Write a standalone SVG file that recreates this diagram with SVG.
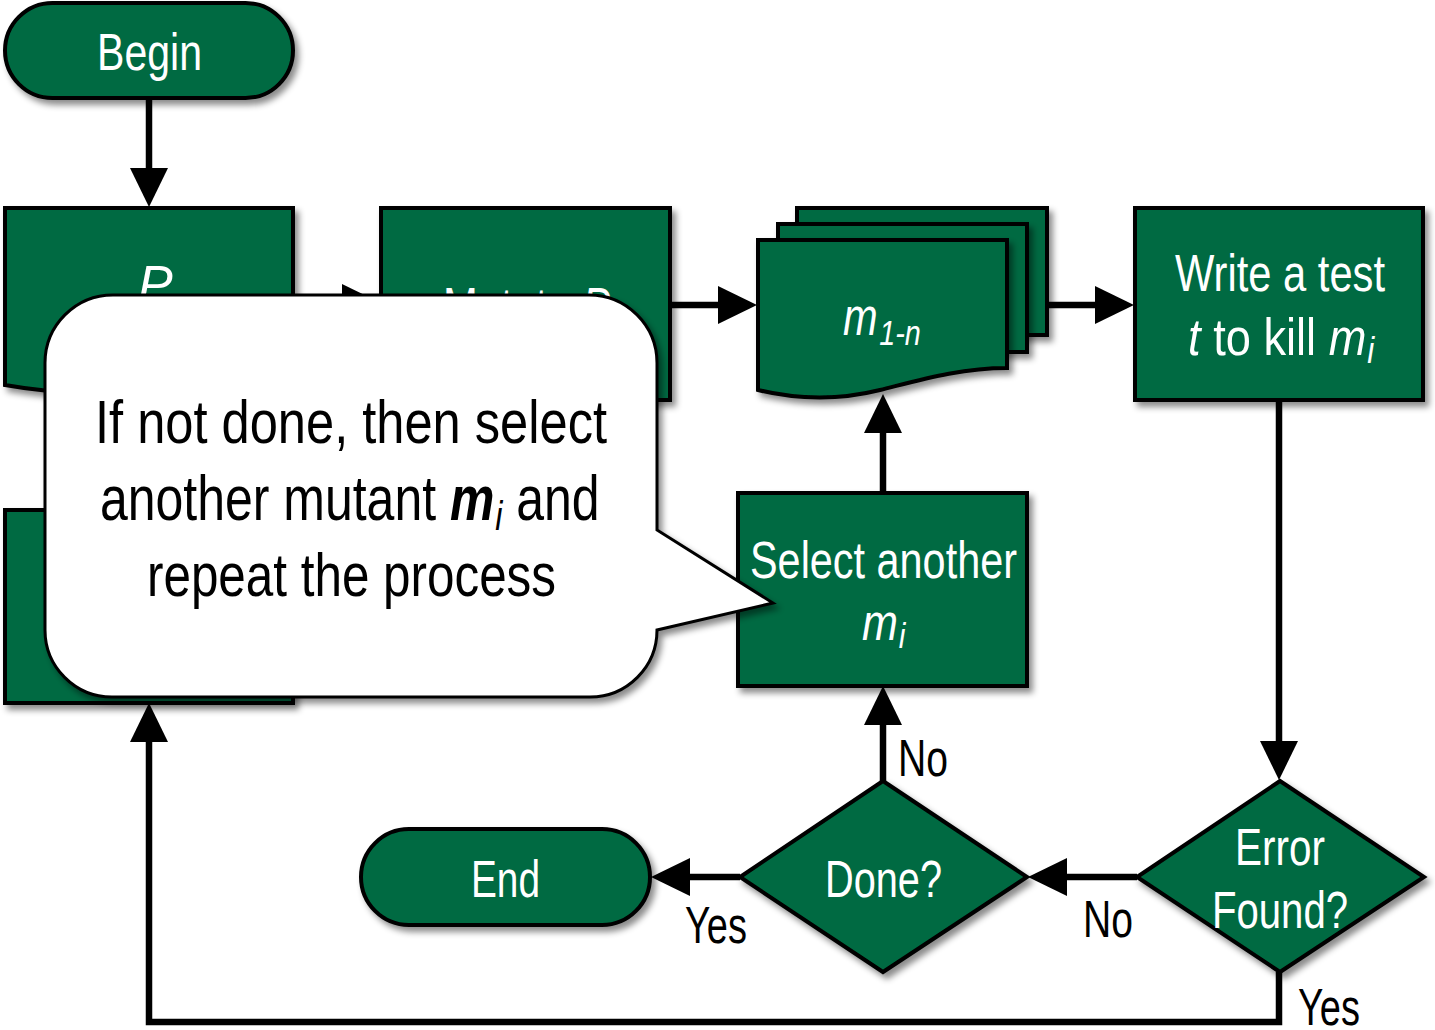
<svg xmlns="http://www.w3.org/2000/svg" width="1435" height="1030" viewBox="0 0 1435 1030">
<defs>
<filter id="sh" x="-10%" y="-10%" width="130%" height="130%">
<feDropShadow dx="4" dy="5" stdDeviation="3" flood-color="#000" flood-opacity="0.45"/>
</filter>
<marker id="ah" viewBox="0 0 40 40" refX="1" refY="20" markerWidth="40" markerHeight="40" markerUnits="userSpaceOnUse" orient="auto">
<path d="M0,1 L39,20 L0,39 z" fill="#000"/>
</marker>
<style>
.n{fill:#046b42;stroke:#000;stroke-width:4;filter:url(#sh)}
.c{fill:none;stroke:#000;stroke-width:6.5;marker-end:url(#ah)}
.t{font-family:"Liberation Sans Narrow","Liberation Sans",Arial,sans-serif;fill:#fff;font-size:52px}
.i{font-style:italic}
.s{font-size:36px}
.l{font-family:"Liberation Sans Narrow","Liberation Sans",Arial,sans-serif;fill:#000;font-size:52px}
.cl{font-family:"Liberation Sans Narrow","Liberation Sans",Arial,sans-serif;fill:#000;font-size:62px}
</style>
</defs>
<rect width="1435" height="1030" fill="#fff"/>

<g id="connectors">
<path class="c" d="M149,98 V169"/>
<path class="c" d="M293,303 H343"/>
<path class="c" d="M670,305 H719"/>
<path class="c" d="M1047,305 H1096"/>
<path class="c" d="M1279,400 V742"/>
<path class="c" d="M1137,877 H1066"/>
<path class="c" d="M740,877 H689"/>
<path class="c" d="M883,781 V724"/>
<path class="c" d="M883,493 V432"/>
<path class="c" d="M1279,972 V1022 H149 V741"/>
<text class="l" x="898" y="776" textLength="50" lengthAdjust="spacingAndGlyphs">No</text>
<text class="l" x="685" y="943" textLength="62" lengthAdjust="spacingAndGlyphs">Yes</text>
<text class="l" x="1083" y="937" textLength="50" lengthAdjust="spacingAndGlyphs">No</text>
<text class="l" x="1298" y="1025" textLength="62" lengthAdjust="spacingAndGlyphs">Yes</text>
</g>

<g id="begin">
<rect class="n" x="5" y="3" width="288" height="95" rx="47.5"/>
<text class="t" x="97" y="70" textLength="105" lengthAdjust="spacingAndGlyphs">Begin</text>
</g>

<g id="program-p">
<path class="n" d="M5,208 H293 V372 C240,368 200,372 150,385 C100,397 50,393 5,385 Z"/>
<text class="t i" x="138" y="302">P</text>
</g>

<g id="mutate-p">
<rect class="n" x="381" y="208" width="289" height="192"/>
<text class="t" x="443" y="324" textLength="167" lengthAdjust="spacingAndGlyphs">Mutate <tspan class="i">P</tspan></text>
</g>

<g id="hidden-box">
<rect class="n" x="5" y="510" width="288" height="193"/>
</g>

<g id="mutants">
<rect class="n" x="797" y="208" width="250" height="127"/>
<rect class="n" x="778" y="224" width="249" height="128"/>
<path class="n" d="M758,240 H1007 V368 C960,368 920,380 880,390 C840,400 800,400 758,390 Z"/>
<text class="t i" transform="translate(843,335) scale(0.8,1)" x="0" y="0">m<tspan class="s" dx="2" dy="10">1-n</tspan></text>
</g>

<g id="write-test">
<rect class="n" x="1135" y="208" width="288" height="192"/>
<text class="t" x="1175" y="291" textLength="210" lengthAdjust="spacingAndGlyphs">Write a test</text>
<text class="t" transform="translate(1188,355) scale(0.87,1)" x="0" y="0"><tspan class="i">t</tspan> to kill <tspan class="i">m</tspan><tspan class="i s" dx="1" dy="8">i</tspan></text>
</g>

<g id="error-found">
<polygon class="n" points="1280,781 1424,877 1280,972 1137,877"/>
<text class="t" x="1235" y="865" textLength="90" lengthAdjust="spacingAndGlyphs">Error</text>
<text class="t" x="1212" y="928" textLength="136" lengthAdjust="spacingAndGlyphs">Found?</text>
</g>

<g id="done">
<polygon class="n" points="883,781 1027,877 883,972 740,877"/>
<text class="t" x="825" y="897" textLength="117" lengthAdjust="spacingAndGlyphs">Done?</text>
</g>

<g id="end">
<rect class="n" x="361" y="829" width="289" height="96" rx="48"/>
<text class="t" x="471" y="897" textLength="69" lengthAdjust="spacingAndGlyphs">End</text>
</g>

<g id="select-another">
<rect class="n" x="738" y="493" width="289" height="193"/>
<text class="t" x="750" y="578" textLength="267" lengthAdjust="spacingAndGlyphs">Select another</text>
<text class="t i" transform="translate(862,640) scale(0.83,1)" x="0" y="0">m<tspan class="s" dx="1" dy="8">i</tspan></text>
</g>

<g id="callout">
<path d="M113,295 H589 A68,68 0 0 1 657,363 V530 L773,603 L657,630 A67,67 0 0 1 590,697 H112 A67,67 0 0 1 45,630 V363 A68,68 0 0 1 113,295 Z" fill="#fff" stroke="#000" stroke-width="3" filter="url(#sh)"/>
<text class="cl" x="95" y="443" textLength="512" lengthAdjust="spacingAndGlyphs">If not done, then select</text>
<text class="cl" transform="translate(100,520) scale(0.806,1)" x="0" y="0">another mutant <tspan class="i" font-weight="bold">m</tspan><tspan class="i" font-size="40" dx="1" dy="10">i</tspan><tspan dy="-10"> and</tspan></text>
<text class="cl" x="147" y="596" textLength="409" lengthAdjust="spacingAndGlyphs">repeat the process</text>
</g>
</svg>
